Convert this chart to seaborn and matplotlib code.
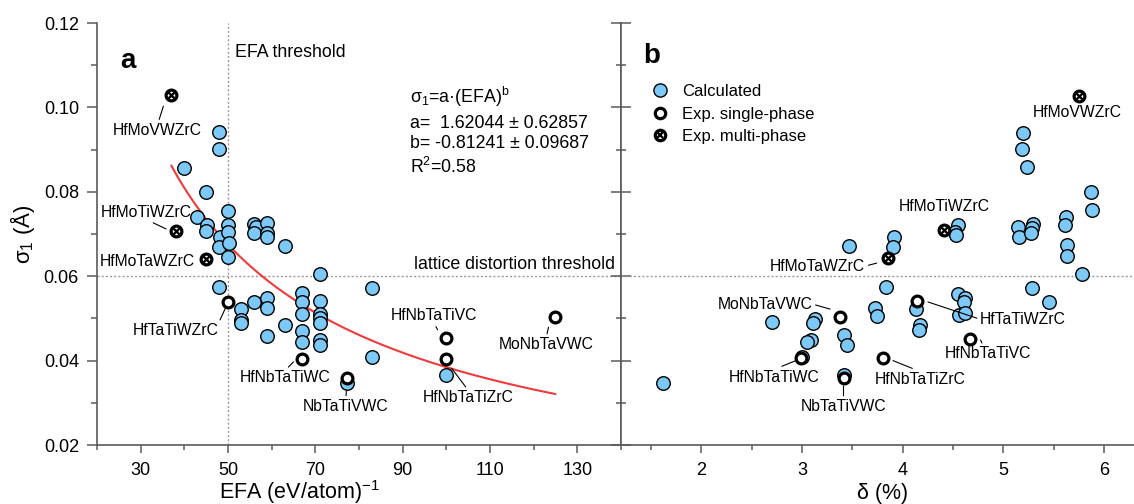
import numpy as np
import matplotlib
matplotlib.use("Agg")
import matplotlib.pyplot as plt
from matplotlib.lines import Line2D
from matplotlib.ticker import MultipleLocator
import seaborn as sns

# ---------------- data ----------------
efa_calc = [40.0, 43.0, 45.0, 45.1, 45.0, 48.0, 48.0, 48.2, 48.0, 48.0,
            50.0, 50.0, 50.0, 50.2, 50.0, 53.0, 53.0, 53.0, 56.0, 56.3, 56.0, 56.0,
            59.0, 59.0, 59.0, 59.0, 59.0, 59.0, 63.0, 63.0,
            67.0, 67.0, 67.0, 67.0, 67.0, 71.0, 71.0, 71.0, 71.0, 71.0, 71.0, 71.0,
            77.2, 83.0, 83.0, 100.0]
sigma_calc_a = [0.0857, 0.0741, 0.0799, 0.0722, 0.0707, 0.0941, 0.0901, 0.0694, 0.0670, 0.0574,
                0.0755, 0.0721, 0.0705, 0.0678, 0.0646, 0.0522, 0.0496, 0.0488, 0.0723, 0.0716, 0.0702, 0.0538,
                0.0725, 0.0702, 0.0694, 0.0548, 0.0524, 0.0459, 0.0672, 0.0484,
                0.0560, 0.0540, 0.0510, 0.0471, 0.0445, 0.0605, 0.0542, 0.0510, 0.0500, 0.0490, 0.0449, 0.0437,
                0.0348, 0.0571, 0.0408, 0.0367]

single_names = ["HfTaTiWZrC", "HfNbTaTiWC", "NbTaTiVWC", "HfNbTaTiVC", "HfNbTaTiZrC", "MoNbTaVWC"]
efa_single = [50.0, 67.0, 77.2, 100.0, 100.0, 125.0]
sigma_single_a = [0.0540, 0.0404, 0.0359, 0.0453, 0.0404, 0.0504]

multi_names = ["HfMoVWZrC", "HfMoTiWZrC", "HfMoTaWZrC"]
efa_multi = [37.0, 38.1, 45.0]
sigma_multi_a = [0.1029, 0.0708, 0.0641]

delta_calc = [5.194, 5.185, 5.233, 5.871, 5.881, 5.623, 5.616, 5.630, 5.636, 5.786,
              5.148, 5.158, 5.297, 5.288, 5.280, 5.288, 5.457, 4.546, 4.519, 4.529,
              3.911, 3.907, 3.471, 3.836, 3.727, 3.743, 4.132, 4.172, 4.159,
              4.552, 4.622, 4.609, 4.560, 4.622, 3.412, 3.451, 3.412,
              3.130, 3.113, 3.090, 3.048, 3.002, 2.701, 1.620]
sigma_calc_b = [0.0940, 0.0901, 0.0858, 0.0800, 0.0756, 0.0741, 0.0721, 0.0674, 0.0648, 0.0605,
                0.0717, 0.0692, 0.0724, 0.0714, 0.0702, 0.0573, 0.0538, 0.0721, 0.0705, 0.0698,
                0.0694, 0.0670, 0.0672, 0.0575, 0.0524, 0.0506, 0.0522, 0.0484, 0.0473,
                0.0558, 0.0548, 0.0540, 0.0508, 0.0512, 0.0460, 0.0437, 0.0366,
                0.0498, 0.0490, 0.0449, 0.0443, 0.0409, 0.0492, 0.0346]
delta_single = [4.145, 2.992, 3.412, 4.672, 3.802, 3.379]
sigma_single_b = [0.0541, 0.0405, 0.0358, 0.0452, 0.0405, 0.0504]
delta_multi = [5.750, 4.413, 3.857]
sigma_multi_b = [0.1028, 0.0709, 0.0644]

fit_a, fit_b = 1.62044, -0.81241
fit_range = (37.0, 125.0)
efa_threshold = 50
lattice_threshold = 0.06

# ---------------- style ----------------
sns.set_style("ticks")
plt.rcParams["font.family"] = ["Liberation Sans", "DejaVu Sans"]
plt.rcParams["mathtext.fontset"] = "custom"
plt.rcParams["mathtext.rm"] = "Liberation Sans"
plt.rcParams["mathtext.it"] = "Liberation Sans:italic"
plt.rcParams["mathtext.bf"] = "Liberation Sans:bold"
plt.rcParams["text.color"] = "black"
plt.rcParams["axes.labelcolor"] = "black"
plt.rcParams["xtick.labelcolor"] = "black"
plt.rcParams["ytick.labelcolor"] = "black"

BLUE = "#7CC8F6"
SPINE = "#5a5a5a"
DOT = "#9a9a9a"
FS_TICK = 13
FS_LAB = 11.3
FS_TXT = 12.8
FS_AX = 15.5

fig = plt.figure(figsize=(11.34, 5.04), dpi=100)
axA = fig.add_axes([97 / 1134, 59 / 504, 524 / 1134, 422 / 504])
axB = fig.add_axes([621 / 1134, 59 / 504, 513 / 1134, 422 / 504])

def draw_points(ax, xc, yc, xs, ys, xm, ym):
    sns.scatterplot(x=xc, y=yc, ax=ax, s=95, color=BLUE, edgecolor="black",
                    linewidth=1.0, zorder=3, legend=False)
    sns.scatterplot(x=xs, y=ys, ax=ax, s=60, color="white", edgecolor="black",
                    linewidth=2.3, zorder=4, legend=False)
    sns.scatterplot(x=xm, y=ym, ax=ax, s=60, color="white", edgecolor="black",
                    linewidth=2.3, zorder=4, legend=False)
    sns.scatterplot(x=xm, y=ym, ax=ax, s=24, marker="x", color="black",
                    linewidth=1.7, zorder=5, legend=False)

# ---- panel a ----
draw_points(axA, efa_calc, sigma_calc_a, efa_single, sigma_single_a, efa_multi, sigma_multi_a)
xfit = np.linspace(fit_range[0], fit_range[1], 200)
sns.lineplot(x=xfit, y=fit_a * xfit ** fit_b, ax=axA, color="#EE3B3B", linewidth=1.5, zorder=2)
axA.axvline(efa_threshold, color=DOT, ls=(0, (1.5, 1.5)), lw=1.0, zorder=1)
axA.axhline(lattice_threshold, color=DOT, ls=(0, (1.5, 1.5)), lw=1.0, zorder=1)

axA.set_xlim(20, 140)
axA.set_ylim(0.02, 0.12)
axA.set_xticks([30, 50, 70, 90, 110, 130])
axA.xaxis.set_minor_locator(MultipleLocator(10))
axA.set_yticks([0.02, 0.04, 0.06, 0.08, 0.10, 0.12])
axA.set_yticklabels(["0.02", "0.04", "0.06", "0.08", "0.10", "0.12"])
axA.yaxis.set_minor_locator(MultipleLocator(0.01))
axA.tick_params(axis="both", which="major", labelsize=FS_TICK, color=SPINE, width=1.1)
axA.tick_params(axis="y", which="major", length=7, direction="out", pad=6)
axA.tick_params(axis="y", which="minor", length=4, direction="out", color=SPINE, width=1.1)
axA.tick_params(axis="x", which="major", length=6, direction="out", pad=6.5)
axA.tick_params(axis="x", which="minor", length=3.5, direction="out", color=SPINE, width=1.1)
axA.spines["top"].set_visible(False)
for side in ["left", "bottom", "right"]:
    axA.spines[side].set_color(SPINE)
    axA.spines[side].set_linewidth(1.2)
axA.set_xlabel(r"EFA (eV/atom)$^{-1}$", fontsize=FS_AX)
axA.xaxis.set_label_coords(0.386, -0.1285)
axA.xaxis.label.set_va("baseline")
axA.set_ylabel(r"σ$_{1}$ (Å)", fontsize=16)
axA.yaxis.set_label_coords(-0.1145, 0.5)

axA.text(25.3, 0.1093, "a", fontsize=20, fontweight="bold", ha="left", va="baseline")
axA.text(51.7, 0.1131, "EFA threshold", fontsize=FS_TXT, ha="left", va="center")
axA.text(138.7, 0.0627, "lattice distortion threshold", fontsize=FS_TXT, ha="right", va="center")
eq_lines = [r"σ$_{1}$=a·(EFA)$^{\mathregular{b}}$", "a=  1.62044 ± 0.62857",
            "b= -0.81241 ± 0.09687", r"R$^{2}$=0.58"]
for t, yb in zip(eq_lines, [0.1010, 0.0951, 0.0904, 0.0845]):
    axA.text(91.75, yb, t, fontsize=FS_TXT, ha="left", va="baseline")

def label(ax, name, txy, xy=None, relpos=(0.5, 0.5)):
    if xy is None:
        ax.text(txy[0], txy[1], name, fontsize=FS_LAB, ha="center", va="center", zorder=6)
    else:
        ax.annotate(name, xy=xy, xytext=txy, fontsize=FS_LAB, ha="center", va="center", zorder=6,
                    arrowprops=dict(arrowstyle="-", color="black", lw=0.8, shrinkA=0, shrinkB=0,
                                    relpos=relpos))

label(axA, "HfMoVWZrC", (33.8, 0.0946), (35.2, 0.1003), (0.51, 1))
label(axA, "HfMoTiWZrC", (31.3, 0.0752), (35.8, 0.0712), (0.5, 0))
label(axA, "HfMoTaWZrC", (31.6, 0.0634))
label(axA, "HfTaTiWZrC", (38.0, 0.0471), (49.4, 0.0524), (1, 1))
label(axA, "HfNbTaTiWC", (63.1, 0.0359), (65.0, 0.0397), (0.5, 1))
label(axA, "NbTaTiVWC", (77.0, 0.0291), (77.1, 0.0330), (0.5, 1))
label(axA, "HfNbTaTiVC", (97.2, 0.0506), (98.0, 0.0473), (0.5, 0))
label(axA, "HfNbTaTiZrC", (105.0, 0.0312), (101.2, 0.0382), (0.5, 1))
label(axA, "MoNbTaVWC", (122.9, 0.0438), (123.4, 0.0479), (0.5, 1))

# ---- panel b ----
draw_points(axB, delta_calc, sigma_calc_b, delta_single, sigma_single_b, delta_multi, sigma_multi_b)
axB.axhline(lattice_threshold, color=DOT, ls=(0, (1.5, 1.5)), lw=1.0, zorder=1)
axB.set_xlim(1.2, 6.3)
axB.set_ylim(0.02, 0.12)
axB.set_xticks([2, 3, 4, 5, 6])
axB.xaxis.set_minor_locator(MultipleLocator(0.5))
axB.set_yticks([0.02, 0.04, 0.06, 0.08, 0.10, 0.12])
axB.yaxis.set_minor_locator(MultipleLocator(0.01))
axB.tick_params(axis="y", which="major", length=14.4, direction="inout", labelleft=False,
                color=SPINE, width=1.1)
axB.tick_params(axis="y", which="minor", length=7, direction="inout", color=SPINE, width=1.1)
axB.tick_params(axis="x", which="major", length=6, direction="out", pad=6.5, labelsize=FS_TICK,
                color=SPINE, width=1.1)
axB.tick_params(axis="x", which="minor", length=3.5, direction="out", color=SPINE, width=1.1)
for side in ["top", "right"]:
    axB.spines[side].set_visible(False)
for side in ["left", "bottom"]:
    axB.spines[side].set_color(SPINE)
    axB.spines[side].set_linewidth(1.2)
axB.set_xlabel("δ (%)", fontsize=FS_AX)
axB.xaxis.set_label_coords(0.509, -0.1285)
axB.xaxis.label.set_va("baseline")
axB.set_ylabel("")

axB.text(1.425, 0.1105, "b", fontsize=20, fontweight="bold", ha="left", va="baseline")

label(axB, "HfMoVWZrC", (5.739, 0.0987))
label(axB, "HfMoTiWZrC", (4.410, 0.0766))
label(axB, "HfMoTaWZrC", (3.155, 0.0624), (3.742, 0.0631), (1, 0.5))
label(axB, "MoNbTaVWC", (2.630, 0.0534), (3.279, 0.0522), (1, 0.5))
label(axB, "HfNbTaTiWC", (2.719, 0.0361), (2.949, 0.0401), (0.5, 1))
label(axB, "NbTaTiVWC", (3.412, 0.0291), (3.412, 0.0340), (0.5, 1))
label(axB, "HfNbTaTiZrC", (4.177, 0.0356), (3.904, 0.0400), (0.5, 1))
label(axB, "HfTaTiWZrC", (5.198, 0.0498), (4.251, 0.0539), (0, 0.5))
label(axB, "HfNbTaTiVC", (4.846, 0.0416), (4.774, 0.0449), (0.45, 1))

h_calc = Line2D([], [], ls="none", marker="o", markersize=9.5, markerfacecolor=BLUE,
                markeredgecolor="black", markeredgewidth=1.0)
h_single = Line2D([], [], ls="none", marker="o", markersize=7.5, markerfacecolor="white",
                  markeredgecolor="black", markeredgewidth=2.3)
h_multi_o = Line2D([], [], ls="none", marker="o", markersize=7.5, markerfacecolor="white",
                   markeredgecolor="black", markeredgewidth=2.3)
h_multi_x = Line2D([], [], ls="none", marker="x", markersize=4.8, markeredgecolor="black",
                   markeredgewidth=1.7)
axB.legend([h_calc, h_single, (h_multi_o, h_multi_x)],
           ["Calculated", "Exp. single-phase", "Exp. multi-phase"],
           loc="upper left", bbox_to_anchor=(0.0604, 0.855), frameon=False, fontsize=12,
           handlelength=1.0, handletextpad=0.8, borderpad=0, borderaxespad=0, labelspacing=0.45)

fig.savefig("out.png", dpi=100)
